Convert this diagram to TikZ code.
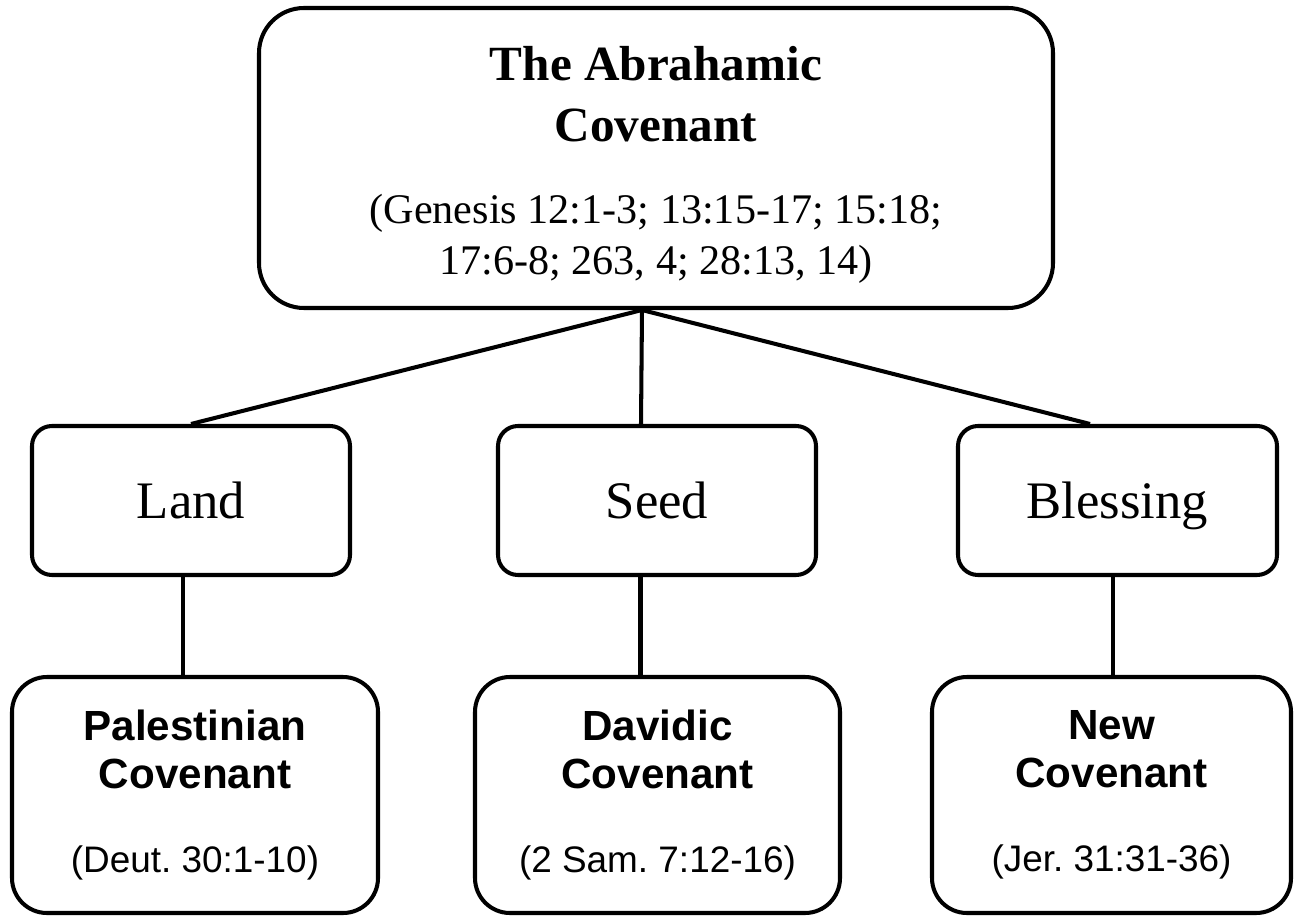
\documentclass[tikz,border=0pt]{standalone}
\usepackage{fontspec}
\setmainfont{Liberation Serif}
\setsansfont{Liberation Sans}
\usetikzlibrary{positioning}

\newcommand{\abrtitle}{\fontsize{28}{35}\selectfont\bfseries}
\newcommand{\abrref}{\fontsize{24}{27}\selectfont}
\newcommand{\covtitle}{\sffamily\bfseries\fontsize{24}{27}\selectfont}
\newcommand{\covref}{\sffamily\fontsize{21}{25}\selectfont\frenchspacing}

\begin{document}
\begin{tikzpicture}[
  topbox/.style={draw, line width=2.3pt, rounded corners=0.9cm, minimum width=15.88cm, minimum height=6cm, align=center, inner sep=0pt, font=\fontsize{28}{35}\selectfont},
  promisebox/.style={draw, line width=2.3pt, rounded corners=0.4cm, minimum width=6.36cm, minimum height=2.98cm, align=center, text height=28pt, text depth=7pt, font=\fontsize{30}{36}\selectfont},
  covbox/.style={draw, line width=2.3pt, rounded corners=0.7cm, minimum height=4.72cm, align=center, inner sep=0pt, font=\fontsize{24}{27.3}\selectfont},
  link/.style={line width=2.3pt}]
  \useasboundingbox (0,0) rectangle (25.92,18.32);
  % The covenant at the top
  \node[topbox] (abraham) at (13.12,15.16)
    {\abrtitle\rule{0pt}{27pt}The Abrahamic\\\abrtitle Covenant\\[11.7pt]
     \abrref (Genesis 12:1-3; 13:15-17; 15:18;\\[-6.5pt]\abrref 17:6-8; 263, 4; 28:13, 14)};
  % Three promises
  \node[promisebox] (land) at (3.82,8.31) {Land};
  \node[promisebox] (seed) at (13.14,8.31) {Seed};
  \node[promisebox, minimum width=6.38cm] (blessing) at (22.35,8.31) {Blessing};
  % Covenants that unfold each promise
  \node[covbox, minimum width=7.32cm] (palestinian) at (3.9,2.42)
    {\covtitle Palestinian\\\covtitle Covenant\\[20.5pt]\covref (Deut. 30:1-10)};
  \node[covbox, minimum width=7.3cm] (davidic) at (13.15,2.42)
    {\covtitle Davidic\\\covtitle Covenant\\[20.5pt]\covref (2 Sam. 7:12-16)};
  \node[covbox, minimum width=7.18cm] (new) at (22.23,2.42)
    {\covtitle New\\\covtitle Covenant\\[20.5pt]\covref (Jer. 31:31-36)};
  % Connectors
  \coordinate (hub) at ([xshift=-2.8mm]abraham.south);
  \draw[link] (hub) -- (land.north);
  \draw[link] (hub) -- ([xshift=-3.2mm]seed.north);
  \draw[link] (hub) -- ([xshift=-5.5mm]blessing.north);
  \draw[link] ([xshift=-1.6mm]land.south) -- ([xshift=-1.6mm]land.south |- palestinian.north);
  \draw[link] ([xshift=-3.3mm]seed.south) -- ([xshift=-3.3mm]seed.south |- davidic.north);
  \draw[link] ([xshift=-0.9mm]blessing.south) -- ([xshift=-0.9mm]blessing.south |- new.north);
\end{tikzpicture}
\end{document}
